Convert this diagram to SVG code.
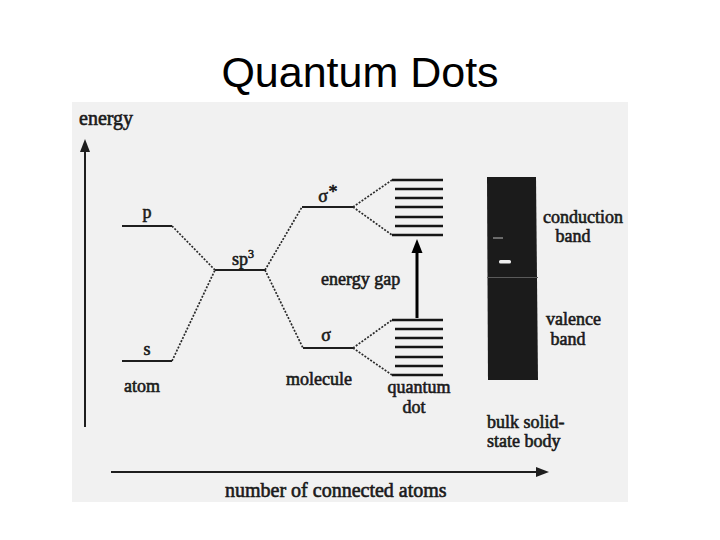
<svg xmlns="http://www.w3.org/2000/svg" width="720" height="540" viewBox="0 0 720 540">
  <defs>
    <style>
      .lbl { font-family: "Liberation Serif", "Times New Roman", serif; font-size: 18px; fill: #1a1a1a; stroke: #1a1a1a; stroke-width: 0.6; }
      .big { font-size: 20px; }
      .lvl { stroke: #1e1e1e; stroke-width: 2.2; fill: none; }
      .qd { stroke: #151515; stroke-width: 2.6; fill: none; }
      .dot { stroke: #2a2a2a; stroke-width: 1.7; stroke-dasharray: 2 1.5; fill: none; }
      .axis { stroke: #1e1e1e; stroke-width: 2; fill: none; }
    </style>
  </defs>
  <rect x="0" y="0" width="720" height="540" fill="#ffffff"/>
  <text x="360" y="87" text-anchor="middle" font-family="Liberation Sans, Arial, sans-serif" font-size="43" fill="#000">Quantum Dots</text>

  <rect x="72" y="102" width="556" height="400" fill="#f1f1f1"/>

  <g id="axis-energy">
    <line class="axis" x1="85" y1="427" x2="85" y2="150"/>
    <polygon points="85,139 80,152 90,152" fill="#1e1e1e"/>
    <text class="lbl big" x="79" y="125">energy</text>
  </g>
  <g id="axis-atoms">
    <line class="axis" x1="111" y1="472" x2="538" y2="472"/>
    <polygon points="549,472 536,467 536,477" fill="#1e1e1e"/>
    <text class="lbl big" x="225" y="497">number of connected atoms</text>
  </g>

  <g id="atom-p">
    <line class="lvl" x1="122" y1="226" x2="172" y2="226"/>
    <text class="lbl" x="147" y="218" text-anchor="middle">p</text>
  </g>
  <g id="atom-s">
    <line class="lvl" x1="122" y1="361" x2="172" y2="361"/>
    <text class="lbl" x="147" y="355" text-anchor="middle">s</text>
  </g>
  <g id="atom">
    <text class="lbl" x="124" y="392">atom</text>
  </g>
  <g id="sp3">
    <line class="lvl" x1="215" y1="270" x2="265" y2="270"/>
    <text class="lbl" x="243" y="265" text-anchor="middle">sp<tspan font-size="12" dy="-7">3</tspan></text>
  </g>
  <g id="sigma-star">
    <line class="lvl" x1="302" y1="207" x2="353" y2="207"/>
    <text class="lbl" x="323" y="202" text-anchor="middle">σ</text>
    <text class="lbl" x="333" y="198" font-size="11" text-anchor="middle">*</text>
  </g>
  <g id="sigma">
    <line class="lvl" x1="303" y1="348" x2="353" y2="348"/>
    <text class="lbl" x="326" y="341" text-anchor="middle">σ</text>
  </g>
  <g id="molecule">
    <text class="lbl" x="286" y="385">molecule</text>
  </g>
  <g id="energy-gap">
    <text class="lbl" x="321" y="285">energy gap</text>
  </g>

  <g id="qd-conduction">
    <line class="qd" x1="392" y1="180" x2="443" y2="180"/>
    <line class="qd" x1="395" y1="189" x2="443" y2="189"/>
    <line class="qd" x1="395" y1="198" x2="443" y2="198"/>
    <line class="qd" x1="395" y1="207" x2="443" y2="207"/>
    <line class="qd" x1="395" y1="217" x2="443" y2="217"/>
    <line class="qd" x1="395" y1="226" x2="443" y2="226"/>
    <line class="qd" x1="392" y1="235" x2="443" y2="235"/>
  </g>
  <g id="qd-valence">
    <line class="qd" x1="392" y1="320" x2="443" y2="320"/>
    <line class="qd" x1="395" y1="329" x2="443" y2="329"/>
    <line class="qd" x1="395" y1="338" x2="443" y2="338"/>
    <line class="qd" x1="395" y1="347" x2="443" y2="347"/>
    <line class="qd" x1="395" y1="357" x2="443" y2="357"/>
    <line class="qd" x1="395" y1="366" x2="443" y2="366"/>
    <line class="qd" x1="392" y1="375" x2="443" y2="375"/>
  </g>
  <g id="quantum-dot">
    <text class="lbl" x="419" y="393" text-anchor="middle">quantum</text>
    <text class="lbl" x="414" y="413" text-anchor="middle">dot</text>
  </g>

  <g id="bulk">
    <polygon points="487,177 536,177 538,380 488,380" fill="#1b1b1b"/>
    <line x1="487" y1="277.5" x2="538" y2="277.5" stroke="#5a5a5a" stroke-width="1"/>
    <line x1="493" y1="238" x2="503" y2="238" stroke="#bbbbbb" stroke-width="1"/>
    <rect x="499" y="260" width="12" height="3.5" rx="1.5" fill="#f0f0f0"/>
    <text class="lbl" x="543" y="223">conduction</text>
    <text class="lbl" x="573" y="242" text-anchor="middle">band</text>
    <text class="lbl" x="546" y="325">valence</text>
    <text class="lbl" x="568" y="345" text-anchor="middle">band</text>
    <text class="lbl" x="487" y="428">bulk solid-</text>
    <text class="lbl" x="487" y="447">state body</text>
  </g>

  <g id="connectors">
    <line class="dot" x1="172" y1="226" x2="215" y2="270"/>
    <line class="dot" x1="172" y1="361" x2="215" y2="270"/>
    <line class="dot" x1="265" y1="270" x2="302" y2="207"/>
    <line class="dot" x1="265" y1="270" x2="303" y2="348"/>
    <line class="dot" x1="353" y1="207" x2="392" y2="180"/>
    <line class="dot" x1="353" y1="207" x2="392" y2="235"/>
    <line class="dot" x1="353" y1="348" x2="392" y2="320"/>
    <line class="dot" x1="353" y1="348" x2="392" y2="375"/>
    <line x1="417" y1="318" x2="417" y2="250" stroke="#000" stroke-width="3"/>
    <polygon points="417,239 411.5,253 422.5,253" fill="#000"/>
  </g>
</svg>
